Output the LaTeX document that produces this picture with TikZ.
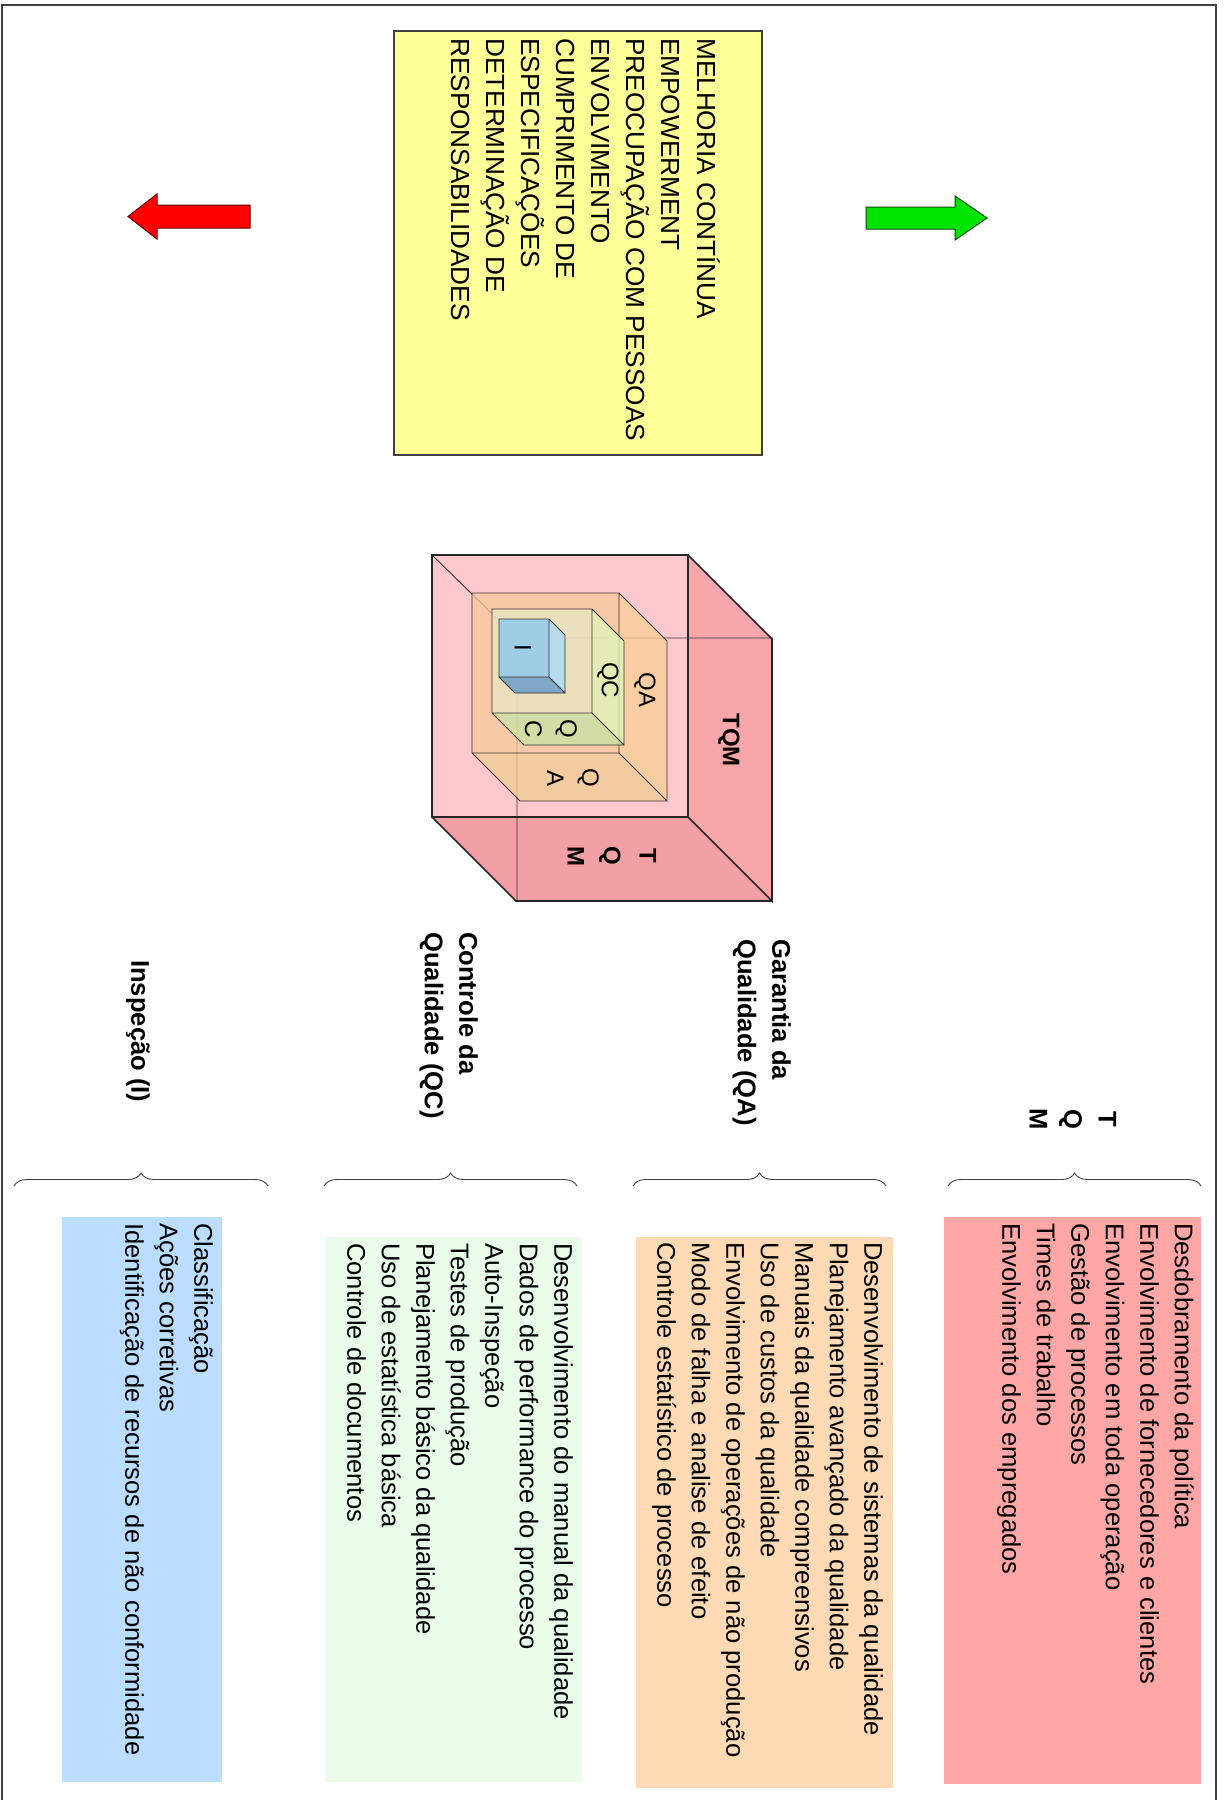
\documentclass[tikz,border=0pt]{standalone}
\usepackage{fontspec}
\setmainfont{Liberation Sans}
\usetikzlibrary{decorations.pathreplacing}

\definecolor{notefill}{HTML}{FFFF99}
\definecolor{tomfill}{HTML}{FFA6A6}
\definecolor{qafill}{HTML}{FFDAB4}
\definecolor{qcfill}{HTML}{EAFCEA}
\definecolor{ifill}{HTML}{BBDDFF}
\definecolor{tomfront}{HTML}{FFC8CC}
\definecolor{tomright}{HTML}{F9A6AB}
\definecolor{tombottom}{HTML}{F2A0A4}
\definecolor{qafront}{HTML}{F8C89B}
\definecolor{qaright}{HTML}{F7CF95}
\definecolor{qabottom}{HTML}{F1CB92}
\definecolor{qcfront}{HTML}{E7E7C7}
\definecolor{qcright}{HTML}{DDF8BA}
\definecolor{qcbottom}{HTML}{C4E5A3}
\definecolor{ifront}{HTML}{A0CDE6}
\definecolor{iright}{HTML}{B4DCEC}
\definecolor{ibottom}{HTML}{7FA8C6}

\begin{document}
\begin{tikzpicture}[x=1pt,y=-1pt,
  txt/.style={rotate=-90,anchor=north west,align=left,inner sep=0pt,
    font={\fontsize{25.6}{34.5}\selectfont}},
  heading/.style={txt,font={\fontsize{25.6}{34.5}\selectfont\bfseries}},
  lbl/.style={rotate=-90,align=center,inner sep=0pt,
    font={\fontsize{24}{35}\selectfont}},
  boldlbl/.style={lbl,font={\fontsize{24}{36}\selectfont\bfseries}},
  cubeline/.style={draw=black!80,line width=0.9},
  rim/.style={draw=black!85,line width=1.7},
  curly/.style={decorate,decoration={brace,amplitude=13},draw=black!75,line width=0.9}]

\useasboundingbox (0,0) rectangle (1224,1800);

\newcommand{\qualcube}[6] % {x}{y}{w}{h}{d}{front/right/bottom}
{
 \fill[#6front] (#1,#2) rectangle ++(#3,#4);
 \fill[#6right] (#1+#3,#2) -- ++(#5,#5) -- ++(0,#4) -- ++(-#5,-#5) -- cycle;
 \fill[#6bottom] (#1,#2+#4) -- ++(#5,#5) -- ++(#3,0) -- ++(-#5,-#5) -- cycle;
}
\newcommand{\cubeedges}[6] % {x}{y}{w}{h}{d}{style}
{
 \draw[#6] (#1,#2) rectangle ++(#3,#4)
   (#1+#3,#2) -- ++(#5,#5) -- ++(0,#4) -- ++(-#5,-#5)
   (#1,#2+#4) -- ++(#5,#5) -- ++(#3,0);
}

% frame
\draw[draw=black!75,line width=1.6] (2,5) rectangle (1216,1806);

% arrows
\filldraw[fill=red,draw=red!40!black,line width=1] (250,205) -- (157,205) -- (157,194)
  -- (128,216.5) -- (157,239) -- (157,228) -- (250,228) -- cycle;
\filldraw[fill=green!90!black,draw=green!30!black,line width=1] (866,207) -- (955,207) -- (955,196)
  -- (987,218) -- (955,240) -- (955,229) -- (866,229) -- cycle;

% principles
\draw[fill=notefill,draw=black!75,line width=1.6] (394,31) rectangle (762,455);
\node[txt,font={\fontsize{26.2}{35.1}\selectfont}] (principles) at (720,38) {MELHORIA CONTÍNUA\\EMPOWERMENT\\PREOCUPAÇÃO COM PESSOAS\\ENVOLVIMENTO\\CUMPRIMENTO DE\\ESPECIFICAÇÕES\\DETERMINAÇÃO DE\\RESPONSABILIDADES};

% cubes
\qualcube{432}{555}{256}{262}{84}{tom}
\draw[cubeline] (432,555) -- (517,638) -- (773,638) (517,638) -- (517,900);
\begin{scope}[fill opacity=0.75]
 \qualcube{472}{593}{147}{160}{48}{qa}
\end{scope}
\cubeedges{472}{593}{147}{160}{48}{cubeline}
\begin{scope}[fill opacity=0.75]
 \qualcube{492}{609}{100}{104}{32}{qc}
\end{scope}
\cubeedges{492}{609}{100}{104}{32}{cubeline}
\qualcube{499}{619}{50}{58}{16}{i}
\cubeedges{499}{619}{50}{58}{16}{cubeline}
\cubeedges{432}{555}{256}{262}{84}{rim}

\node[boldlbl] (toplbl) at (729,740) {TQM};
\node[boldlbl] (sidelbl) at (612,856) {T\\Q\\M};
\node[lbl] (qalbl) at (645,690) {QA};
\node[lbl] (qaside) at (573,778) {Q\\A};
\node[lbl] (qclbl) at (608,680) {QC};
\node[lbl] (qcside) at (551,729) {Q\\C};
\node[lbl] (ilbl) at (523,648) {I};

% headings
\node[heading,anchor=center,align=center] (tomhead) at (1073,1119) {T\\Q\\M};
\node[heading] (qahead) at (791,939) {Garantia da\\Qualidade (QA)};
\node[heading] (qchead) at (478,932) {Controle da\\Qualidade (QC)};
\node[heading] (ihead) at (150,960) {Inspeção (I)};

\foreach \a/\b in {948/1201,633/886,324/577,14/268}
 \draw[curly] (\a,1186) -- (\b,1186);

% lists
\fill[tomfill] (944,1217) rectangle (1201,1784);
\fill[qafill] (636,1237) rectangle (893,1788);
\fill[qcfill] (325,1237) rectangle (582,1782);
\fill[ifill] (62,1217) rectangle (222,1782);

\node[txt] (tomlist) at (1194,1223) {Desdobramento da política\\Envolvimento de fornecedores e clientes\\Envolvimento em toda operação\\Gestão de processos\\Times de trabalho\\Envolvimento dos empregados};
\node[txt] (qalist) at (883,1242) {Desenvolvimento de sistemas da qualidade\\Planejamento avançado da qualidade\\Manuais da qualidade compreensivos\\Uso de custos da qualidade\\Envolvimento de operações de não produção\\Modo de falha e analise de efeito\\Controle estatístico de processo};
\node[txt] (qclist) at (573,1243) {Desenvolvimento do manual da qualidade\\Dados de performance do processo\\Auto-Inspeção\\Testes de produção\\Planejamento básico da qualidade\\Uso de estatística básica\\Controle de documentos};
\node[txt] (ilist) at (213,1223) {Classificação\\Ações corretivas\\Identificação de recursos de não conformidade};

\end{tikzpicture}
\end{document}
